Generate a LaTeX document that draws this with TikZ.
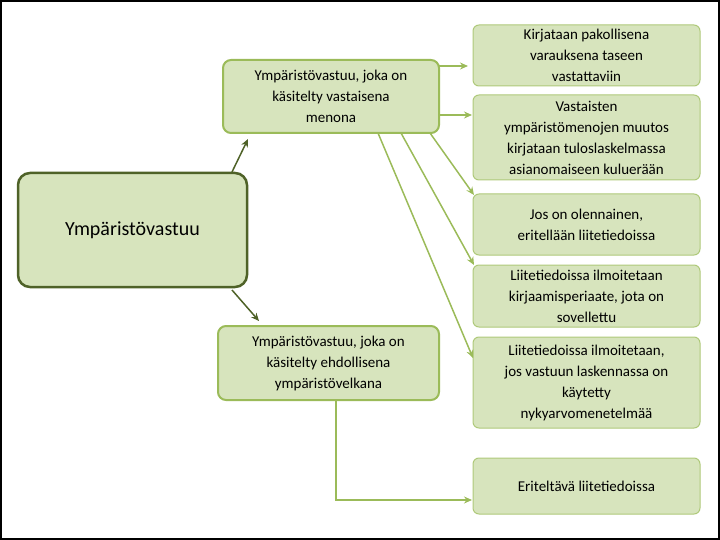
\documentclass[tikz,border=0pt]{standalone}
\usepackage{fontspec}
\setmainfont{Carlito}
\usetikzlibrary{arrows.meta}
\definecolor{boxfill}{HTML}{D7E4BD}
\definecolor{lightline}{HTML}{9BBB59}
\definecolor{darkline}{HTML}{4F6228}
\begin{document}
\begin{tikzpicture}[x=1pt,y=-1pt,
	mainbox/.style={draw=darkline,line width=2.5pt,fill=boxfill,rounded corners=12pt},
	midbox/.style={draw=lightline,line width=2pt,fill=boxfill,rounded corners=8pt},
	sidebox/.style={draw=lightline!80,line width=1pt,fill=boxfill,rounded corners=6pt},
	boxtext/.style={align=center,font=\fontsize{15}{21}\selectfont},
	darkarrow/.style={-{Stealth[length=8pt,width=7pt]},draw=darkline,line width=1.5pt},
	lightarrow/.style={-{Stealth[length=8pt,width=7pt]},draw=lightline,line width=1.5pt}
	]
	\useasboundingbox (0,0) rectangle (720,540);
	\draw[line width=1.5pt] (1,1) rectangle (719,539);
	
	% main node
	\draw[mainbox] (18,173) rectangle (247,287);
	\node[boxtext,font=\fontsize{20}{24}\selectfont] (main) at (132.5,230) {Ympäristövastuu};
	\coordinate (mainN) at (232,172);
	\coordinate (mainS) at (232,290);
	
	% middle nodes
	\draw[midbox] (223,60) rectangle (439,133);
	\node[boxtext] (kasit) at (331,96.5) {Ympäristövastuu, joka on\\käsitelty vastaisena\\menona};
	\draw[midbox] (218,326) rectangle (439,400);
	\node[boxtext] (ehdol) at (328.5,363) {Ympäristövastuu, joka on\\käsitelty ehdollisena\\ympäristövelkana};
	
	% right nodes
	\draw[sidebox] (473,25) rectangle (700,86);
	\node[boxtext] (r1) at (586.5,55.5) {Kirjataan pakollisena\\varauksena taseen\\vastattaviin};
	\draw[sidebox] (473,95) rectangle (700,180);
	\node[boxtext] (r2) at (586.5,137.5) {Vastaisten\\ympäristömenojen muutos\\kirjataan tuloslaskelmassa\\asianomaiseen kuluerään};
	\draw[sidebox] (473,194) rectangle (700,255);
	\node[boxtext] (r3) at (586.5,224.5) {Jos on olennainen,\\eritellään liitetiedoissa};
	\draw[sidebox] (473,265) rectangle (700,327);
	\node[boxtext] (r4) at (586.5,296) {Liitetiedoissa ilmoitetaan\\kirjaamisperiaate, jota on\\sovellettu};
	\draw[sidebox] (473,337) rectangle (700,428);
	\node[boxtext] (r5) at (586.5,382.5) {Liitetiedoissa ilmoitetaan,\\jos vastuun laskennassa on\\käytetty\\nykyarvomenetelmää};
	\draw[sidebox] (473,458) rectangle (700,514);
	\node[boxtext] (r6) at (586.5,486) {Eriteltävä liitetiedoissa};
	
	% connectors
	\coordinate (kasitE1) at (439,66);
	\coordinate (kasitE2) at (439,115);
	\coordinate (kasitS1) at (430,133);
	\coordinate (kasitS2) at (401,133);
	\coordinate (kasitS3) at (378,133);
	\coordinate (ehdolS) at (336,400);
	\coordinate (r1W) at (468,66);
	\coordinate (r2W) at (472,115);
	\coordinate (r3W) at (474,195);
	\coordinate (r4W) at (474,265);
	\coordinate (r5W) at (473,358);
	\coordinate (r6W) at (472,500);
	\coordinate (kasitSW) at (248,139);
	\coordinate (ehdolNW) at (259,321);
	
	\draw[darkarrow] (mainN) -- (kasitSW);
	\draw[darkarrow] (mainS) -- (ehdolNW);
	\draw[lightarrow] (kasitE1) -- (r1W);
	\draw[lightarrow] (kasitE2) -- (r2W);
	\draw[lightarrow] (kasitS1) -- (r3W);
	\draw[lightarrow] (kasitS2) -- (r4W);
	\draw[lightarrow] (kasitS3) -- (r5W);
	\draw[lightarrow] (ehdolS) |- (r6W);
\end{tikzpicture}
\end{document}
